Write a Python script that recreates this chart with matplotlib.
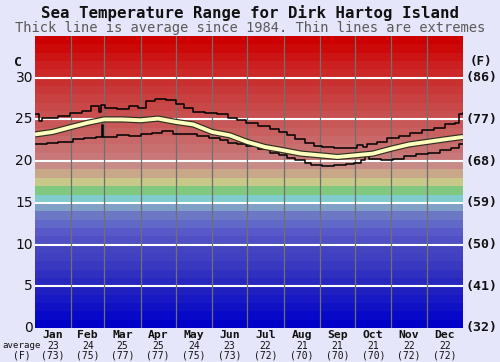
import matplotlib
matplotlib.use("Agg")
import matplotlib.pyplot as plt
import numpy as np

# ---- data ----
months = ['Jan', 'Feb', 'Mar', 'Apr', 'May', 'Jun',
          'Jul', 'Aug', 'Sep', 'Oct', 'Nov', 'Dec']
month_days = [31, 28, 31, 30, 31, 30, 31, 31, 30, 31, 30, 31]
month_avg_c = [23, 24, 25, 25, 24, 23, 22, 21, 21, 21, 22, 22]
month_avg_f = [73, 75, 77, 77, 75, 73, 72, 70, 70, 70, 72, 72]

avg_days = [0, 15, 31, 45, 59, 74, 90, 105, 120, 135, 151, 166, 181,
            196, 212, 227, 243, 258, 273, 288, 304, 319, 334, 349, 365]
avg_temp = [23.2, 23.5, 24.1, 24.6, 25.0, 25.0, 24.9, 25.1, 24.7, 24.4,
            23.5, 23.1, 22.3, 21.7, 21.3, 20.9, 20.7, 20.5, 20.7, 20.9,
            21.5, 22.0, 22.3, 22.6, 22.9]

max_days = [0, 3, 6, 20, 30, 40, 48, 55, 56, 60, 70, 80, 88, 95, 102,
            112, 120, 127, 135, 145, 155, 165, 172, 180, 190, 200, 208,
            215, 222, 230, 238, 245, 255, 265, 275, 280, 283, 292, 300,
            310, 320, 330, 340, 350, 358, 362, 365]
max_temp = [25.6, 24.8, 25.2, 25.4, 25.8, 26.0, 26.6, 25.9, 26.7, 26.4,
            26.2, 26.6, 26.4, 27.2, 27.5, 27.3, 26.8, 26.4, 25.9, 25.8,
            25.6, 25.2, 24.9, 24.6, 24.2, 23.9, 23.5, 23.1, 22.6, 22.2,
            21.8, 21.7, 21.6, 21.6, 21.9, 21.7, 22.0, 22.3, 22.8, 23.0,
            23.4, 23.7, 24.0, 24.4, 24.6, 25.7, 25.8]

min_days = [0, 10, 20, 32, 42, 52, 57, 58, 60, 70, 80, 90, 100, 108,
            118, 128, 138, 148, 158, 165, 172, 180, 190, 200, 208, 215,
            222, 230, 235, 245, 255, 265, 272, 278, 281, 285, 295, 305,
            315, 325, 335, 345, 355, 362, 365]
min_temp = [22.1, 22.2, 22.3, 22.6, 22.8, 22.9, 24.3, 22.9, 22.9, 23.1,
            23.0, 23.3, 23.4, 23.6, 23.2, 23.3, 23.0, 22.8, 22.5, 22.2,
            22.0, 21.8, 21.4, 21.0, 20.7, 20.4, 20.1, 19.8, 19.5, 19.4,
            19.5, 19.7, 19.8, 20.1, 20.8, 20.2, 20.1, 20.3, 20.6, 20.9,
            21.0, 21.3, 21.6, 22.1, 22.1]

# one colour per degree band, 0..35 C
band_colors = ['#0000c8', '#0808c8', '#1010c4', '#1818c4', '#2020c0',
               '#2828c0', '#3030c0', '#3838c0', '#4040c0', '#4444c0',
               '#5050c4', '#5858c8', '#6068c8', '#6c78c4', '#80a0c8',
               '#80cccc', '#80c880', '#c8c888', '#c8a888', '#c88c88',
               '#c87878', '#c87070', '#c86868', '#c86060', '#c85858',
               '#c85050', '#c84848', '#c84040', '#c83838', '#c83030',
               '#cc2828', '#cc2020', '#cc1414', '#cc0808', '#cc0000']

bg = '#e6e6fa'
mono = 'DejaVu Sans Mono'

fig = plt.figure(figsize=(5.0, 3.62), dpi=100, facecolor=bg)
ax = fig.add_axes([35 / 500, 1 - 328 / 362, 428 / 500, 292 / 362])

for t, c in enumerate(band_colors):
    ax.axhspan(t, t + 1, color=c, lw=0, zorder=0)

for t in range(5, 35, 5):
    ax.axhline(t, color='white', lw=1.5, zorder=1)

edges = np.cumsum(month_days)
for e in edges[:-1]:
    ax.axvline(e, color='#707070', lw=0.9, zorder=1)

ax.plot(max_days, max_temp, color='black', lw=1.1, drawstyle='steps-post', zorder=3)
ax.plot(min_days, min_temp, color='black', lw=1.1, drawstyle='steps-post', zorder=3)
ax.plot(avg_days, avg_temp, color='#303020', lw=4.5, solid_capstyle='butt', zorder=4)
ax.plot(avg_days, avg_temp, color='#ffffc0', lw=2.8, solid_capstyle='butt', zorder=5)

ax.set_xlim(0, 365)
ax.set_ylim(0, 35)
ax.set_xticks([])
ax.set_yticks([])
for s in ax.spines.values():
    s.set_visible(False)

# left / right scale labels
for t in range(0, 35, 5):
    y = 1 - (328 - t * 292 / 35) / 362
    fig.text(33 / 500, y, str(t), ha='right', va='center', fontsize=10,
             color='#111111')
    fig.text(466 / 500, y, '(%d)' % round(t * 9 / 5 + 32), ha='left',
             va='center', fontsize=9.5, family=mono, weight='bold', color='#111111')
fig.text(18 / 500, 1 - 62 / 362, 'C', ha='center', va='center', fontsize=9.5,
         family=mono, weight='bold', color='#111111')
fig.text(481 / 500, 1 - 62 / 362, '(F)', ha='center', va='center', fontsize=9,
         family=mono, weight='bold', color='#111111')

# month labels and averages
starts = edges - np.array(month_days)
for i, m in enumerate(months):
    mid = (starts[i] + edges[i]) / 2
    x = (35 + mid * 428 / 365) / 500
    fig.text(x, 1 - 335 / 362, m, ha='center', va='center', fontsize=8.2,
             family=mono, weight='bold', color='#111111')
    fig.text(x, 1 - 346 / 362, str(month_avg_c[i]), ha='center', va='center',
             fontsize=7, family=mono, color='#111111')
    fig.text(x, 1 - 356 / 362, '(%d)' % month_avg_f[i], ha='center', va='center',
             fontsize=7, family=mono, color='#111111')
fig.text(22 / 500, 1 - 346 / 362, 'average', ha='center', va='center',
         fontsize=6.6, family=mono, color='#111111')
fig.text(22 / 500, 1 - 356 / 362, '(F)', ha='center', va='center',
         fontsize=7, family=mono, color='#111111')

fig.text(0.5, 1 - 13 / 362, 'Sea Temperature Range for Dirk Hartog Island',
         ha='center', va='center', fontsize=11.3, family=mono, weight='bold',
         color='#111111')
fig.text(0.5, 1 - 28 / 362,
         'Thick line is average since 1984. Thin lines are extremes',
         ha='center', va='center', fontsize=9.9, family=mono, color='#5a5a5a')

fig.savefig('out.png', dpi=100, facecolor=bg)
